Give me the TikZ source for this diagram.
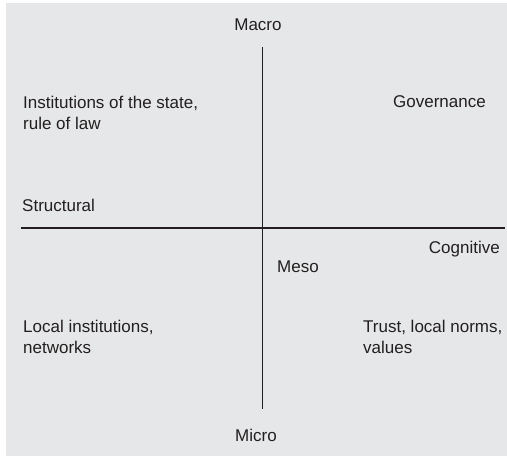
\documentclass[tikz,border=0pt]{standalone}
\usepackage{fontspec}
\setmainfont{Liberation Sans}
\definecolor{bggray}{HTML}{E6E7E8}
\definecolor{ink}{HTML}{231F20}
\begin{document}
\begin{tikzpicture}[x=1pt,y=-1pt,
  lbl/.style={inner sep=0pt, text=ink, font=\fontsize{17}{21}\selectfont, align=left},
  axis/.style={draw=ink, line width=1pt}]
\useasboundingbox (0,0) rectangle (507,457);
\fill[bggray] (6,3) rectangle (507,456);
\coordinate (vt) at (262.5,47);
\coordinate (vb) at (262.5,409);
\coordinate (hl) at (21,228);
\coordinate (hr) at (505,228);
\draw[axis] (vt) -- (vb);
\draw[axis, line width=1.5pt] (hl) -- (hr);
\node[lbl, anchor=base] (macro) at (258,31) {Macro};
\node[lbl, anchor=base] (micro) at (256,442) {Micro};
\node[lbl, anchor=base west] (inst) at (23,130) {Institutions of the state,\\rule of law};
\node[lbl, anchor=base east] (gov) at (486,108) {Governance};
\node[lbl, anchor=base west] (struct) at (22,212) {Structural};
\node[lbl, anchor=base east] (cog) at (500,254) {Cognitive};
\node[lbl, anchor=base west] (meso) at (277,273) {Meso};
\node[lbl, anchor=base west] (local) at (23,354) {Local institutions,\\networks};
\node[lbl, anchor=base west] (trust) at (363,354) {Trust, local norms,\\values};
\end{tikzpicture}
\end{document}
